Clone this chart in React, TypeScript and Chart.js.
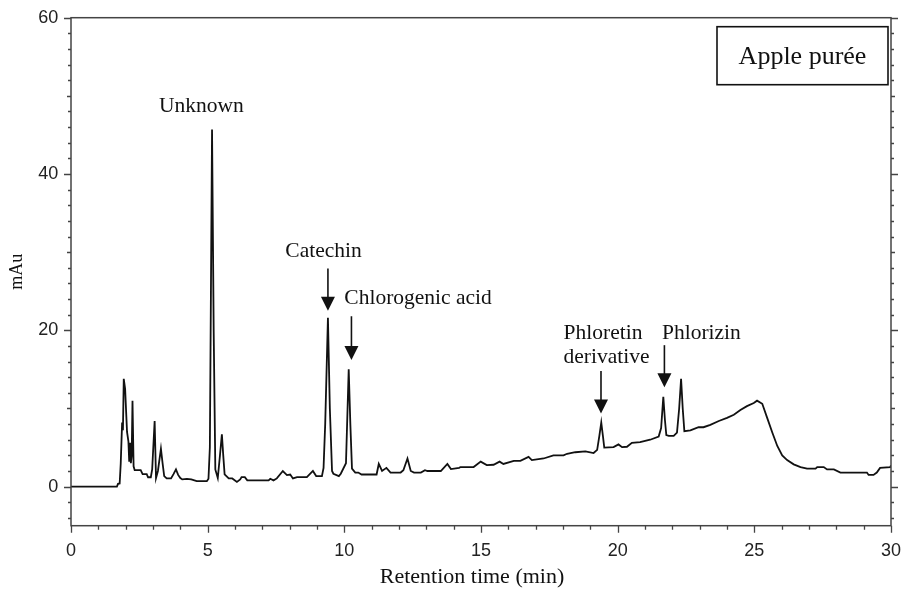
import React, { useEffect, useRef } from 'react';
import { Chart, registerables } from 'chart.js';

Chart.register(...registerables);

// Retention time (min) and absorbance (mAu)
const retentionTimes = [
  0, 1.68, 1.72, 1.78, 1.82, 1.87, 1.9, 1.93, 1.98, 2.05, 2.1, 2.13, 2.16, 2.19, 2.22, 2.25, 2.29, 2.33, 2.55, 2.62,
  2.77, 2.82, 2.92, 2.97, 3.06, 3.11, 3.18, 3.29, 3.35, 3.41, 3.5, 3.66, 3.75, 3.84, 3.92, 4.0, 4.07, 4.24, 4.4, 4.6,
  4.97, 5.03, 5.08, 5.16, 5.22, 5.28, 5.37, 5.45, 5.52, 5.57, 5.62, 5.77, 5.9, 5.95, 6.07, 6.19, 6.24, 6.36, 6.45, 7.23,
  7.29, 7.41, 7.53, 7.75, 7.9, 8.02, 8.12, 8.27, 8.63, 8.85, 8.97, 9.18, 9.24, 9.3, 9.4, 9.47, 9.55, 9.6, 9.8, 9.87,
  10.06, 10.16, 10.22, 10.28, 10.4, 10.51, 10.63, 11.18, 11.26, 11.38, 11.54, 11.69, 12.06, 12.16, 12.31, 12.43, 12.55, 12.8, 12.95, 13.04,
  13.53, 13.77, 13.9, 14.2, 14.25, 14.73, 14.99, 15.21, 15.46, 15.68, 15.82, 16.2, 16.44, 16.74, 16.86, 17.29, 17.65, 18.02, 18.15, 18.45,
  18.82, 19.12, 19.25, 19.33, 19.4, 19.46, 19.51, 19.85, 20.03, 20.16, 20.34, 20.52, 20.82, 21.19, 21.5, 21.59, 21.67, 21.73, 21.78, 21.87,
  22.05, 22.17, 22.25, 22.32, 22.38, 22.44, 22.66, 22.96, 23.14, 23.39, 23.7, 24.0, 24.25, 24.49, 24.73, 24.98, 25.1, 25.29, 25.47, 25.66,
  25.84, 26.02, 26.2, 26.44, 26.69, 26.93, 27.24, 27.3, 27.54, 27.66, 27.91, 28.15, 29.12, 29.18, 29.36, 29.48, 29.6, 29.97, 30.0,
];
const absorbance = [
  0, 0, 0.35, 0.4, 3.0, 8.2, 7.2, 13.8, 12.5, 7.0, 5.8, 3.2, 5.6, 3.0, 4.0, 11.0, 2.6, 2.1, 2.1, 1.6,
  1.6, 1.2, 1.2, 2.2, 8.4, 1.1, 2.0, 4.85, 3.0, 1.35, 1.05, 1.05, 1.6, 2.2, 1.5, 1.1, 0.92, 0.98, 0.92, 0.7,
  0.7, 1.0, 5.0, 45.7, 20, 2.2, 1.1, 4.0, 6.7, 4.0, 1.57, 1.05, 1.05, 0.92, 0.6, 0.92, 1.22, 1.22, 0.8, 0.8,
  1.0, 0.8, 1.05, 2.0, 1.47, 1.55, 1.05, 1.22, 1.22, 2.0, 1.35, 1.35, 2.4, 8, 21.6, 10, 2.0, 1.65, 1.35, 1.65,
  3.0, 15.0, 8, 2.3, 1.8, 1.8, 1.55, 1.55, 2.9, 2.0, 2.4, 1.8, 1.8, 2.1, 3.6, 2.0, 1.8, 1.8, 2.1, 2.0,
  2.0, 2.9, 2.25, 2.4, 2.5, 2.5, 3.2, 2.76, 2.8, 3.2, 2.9, 3.3, 3.3, 3.8, 3.4, 3.6, 4.0, 4.0, 4.2, 4.4,
  4.5, 4.3, 4.7, 6.5, 8.2, 6.5, 5.0, 5.05, 5.4, 5.05, 5.1, 5.6, 5.7, 6.0, 6.4, 7.5, 11.5, 8.5, 6.6, 6.5,
  6.5, 6.9, 10, 13.8, 10, 7.1, 7.2, 7.6, 7.6, 7.9, 8.4, 8.8, 9.2, 9.8, 10.3, 10.7, 11.0, 10.6, 8.8, 6.9,
  5.2, 4.0, 3.4, 2.85, 2.5, 2.3, 2.3, 2.5, 2.5, 2.2, 2.2, 1.8, 1.8, 1.5, 1.5, 1.8, 2.4, 2.5, 2.7,
];

const xTickLabels = [0, 5, 10, 15, 20, 25, 30];
const yTickLabels = [0, 20, 40, 60];
const xAxisTitle = 'Retention time (min)';
const yAxisTitle = 'mAu';

// Peak annotations (data coordinates)
const labelTexts = ['Unknown', 'Catechin', 'Chlorogenic acid', 'Phloretin', 'derivative', 'Phlorizin'];
const labelTimes = [4.77, 9.24, 10.0, 18.02, 18.02, 21.62];
const labelLevels = [48.6, 30.1, 24.1, 19.6, 16.5, 19.6];
const labelAligns = ['center', 'center', 'left', 'left', 'left', 'left'];

const arrowTimes = [9.4, 10.26, 19.39, 21.71];
const arrowStarts = [27.9, 21.8, 14.8, 18.1];
const arrowTips = [22.5, 16.2, 9.35, 12.7];

const sampleName = 'Apple purée';

const AXIS_COLOR = '#444';
const SERIF = '"Liberation Serif", "Times New Roman", serif';
const SANS = '"Liberation Sans", Arial, sans-serif';

const zeroPadding = (s: any) => {
  s.paddingLeft = 0;
  s.paddingRight = 0;
  s.paddingTop = 0;
  s.paddingBottom = 0;
};

const decorPlugin = {
  id: 'decor',
  afterDraw(chart: any) {
    const { ctx, chartArea: a, scales } = chart;
    const x = scales.x;
    const y = scales.y;
    ctx.save();
    ctx.strokeStyle = AXIS_COLOR;
    ctx.lineWidth = 1.5;
    ctx.strokeRect(a.left, a.top, a.right - a.left, a.bottom - a.top);
    ctx.lineWidth = 1.3;
    ctx.beginPath();
    for (let v = 0; v <= 30; v++) {
      const px = Math.round(x.getPixelForValue(v)) + 0.5;
      const len = v % 5 === 0 ? 7 : 4;
      ctx.moveTo(px, a.bottom);
      ctx.lineTo(px, a.bottom + len);
    }
    for (let v = -4; v <= 60; v += 2) {
      const py = Math.round(y.getPixelForValue(v)) + 0.5;
      const len = v % 20 === 0 ? 7 : v % 10 === 0 ? 4 : 3;
      ctx.moveTo(a.left - len, py);
      ctx.lineTo(a.left, py);
      ctx.moveTo(a.right, py);
      ctx.lineTo(a.right + len, py);
    }
    ctx.stroke();

    // x axis title
    ctx.fillStyle = '#111';
    ctx.font = `22px ${SERIF}`;
    ctx.textAlign = 'center';
    ctx.textBaseline = 'middle';
    ctx.fillText(xAxisTitle, (a.left + a.right) / 2 - 9, 577.5);

    // peak labels
    ctx.font = `21.5px ${SERIF}`;
    labelTexts.forEach((t, i) => {
      ctx.textAlign = labelAligns[i];
      ctx.fillText(t, x.getPixelForValue(labelTimes[i]), y.getPixelForValue(labelLevels[i]));
    });

    // arrows
    ctx.strokeStyle = '#111';
    ctx.lineWidth = 1.6;
    arrowTimes.forEach((t, i) => {
      const px = x.getPixelForValue(t);
      const y0 = y.getPixelForValue(arrowStarts[i]);
      const y1 = y.getPixelForValue(arrowTips[i]);
      const head = 14;
      ctx.beginPath();
      ctx.moveTo(px, y0);
      ctx.lineTo(px, y1 - head + 1);
      ctx.stroke();
      ctx.beginPath();
      ctx.moveTo(px - 7, y1 - head);
      ctx.lineTo(px + 7, y1 - head);
      ctx.lineTo(px, y1);
      ctx.closePath();
      ctx.fill();
    });

    // sample box
    const bw = 171;
    const bh = 58;
    const bx = a.right - 3 - bw;
    const by = a.top + 9;
    ctx.lineWidth = 1.6;
    ctx.strokeStyle = '#111';
    ctx.strokeRect(bx, by, bw, bh);
    ctx.font = `26px ${SERIF}`;
    ctx.textAlign = 'center';
    ctx.textBaseline = 'middle';
    ctx.fillText(sampleName, bx + bw / 2, by + bh / 2 + 1);
    ctx.restore();
  },
};

export default function App() {
  const canvasRef = useRef<HTMLCanvasElement | null>(null);

  useEffect(() => {
    const canvas = canvasRef.current;
    if (!canvas) return;
    const points = retentionTimes.map((t, i) => ({ x: t, y: absorbance[i] }));
    const chart = new Chart(canvas, {
      type: 'line',
      data: {
        datasets: [
          {
            data: points,
            borderColor: '#111',
            borderWidth: 1.8,
            pointRadius: 0,
            tension: 0,
            fill: false,
          },
        ],
      },
      options: {
        animation: false,
        responsive: false,
        devicePixelRatio: 1,
        layout: { padding: { top: 17.7, right: 11, left: 0, bottom: 0 } },
        plugins: { legend: { display: false }, tooltip: { enabled: false } },
        scales: {
          x: {
            type: 'linear',
            min: 0,
            max: 30,
            afterFit: (s: any) => {
              s.height = 64.3;
              zeroPadding(s);
            },
            afterBuildTicks: (s: any) => {
              s.ticks = xTickLabels.map((v) => ({ value: v }));
            },
            grid: { display: false, drawTicks: false },
            border: { display: false },
            ticks: {
              padding: 15,
              maxRotation: 0,
              autoSkip: false,
              color: '#222',
              font: { family: SANS, size: 18 },
            },
            title: { display: false },
          },
          y: {
            type: 'linear',
            min: -5,
            max: 60,
            afterFit: (s: any) => {
              s.width = 71;
              zeroPadding(s);
            },
            afterBuildTicks: (s: any) => {
              s.ticks = yTickLabels.map((v) => ({ value: v }));
            },
            grid: { display: false, drawTicks: false },
            border: { display: false },
            ticks: {
              padding: 12.7,
              color: '#222',
              font: { family: SANS, size: 18 },
            },
            title: {
              display: true,
              text: yAxisTitle,
              color: '#111',
              font: { family: SERIF, size: 18 },
              padding: { top: 6, bottom: 0 },
            },
          },
        },
      },
      plugins: [decorPlugin],
    });
    return () => chart.destroy();
  }, []);

  return (
    <div style={{ position: 'absolute', left: 0, top: 0, width: 902, height: 590, background: '#fff' }}>
      <canvas ref={canvasRef} width={902} height={590} style={{ display: 'block', width: 902, height: 590 }} />
    </div>
  );
}
